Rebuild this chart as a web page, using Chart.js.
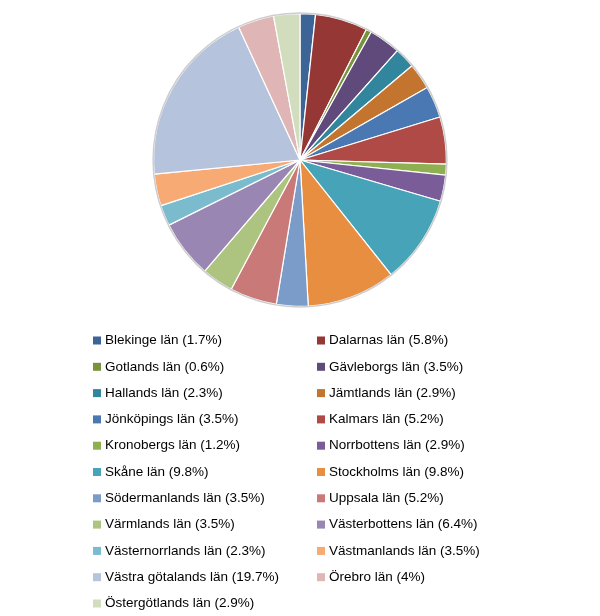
<!DOCTYPE html>
<html>
<head>
<meta charset="utf-8">
<script src="https://cdn.jsdelivr.net/npm/chart.js@4"></script>
<style>
html,body{margin:0;padding:0;background:#fff;}
#wrap{width:600px;height:616px;position:relative;}
</style>
</head>
<body>
<div id="wrap"><canvas id="c" width="600" height="616"></canvas></div>
<script>
const categories = ["Blekinge län","Dalarnas län","Gotlands län","Gävleborgs län","Hallands län","Jämtlands län","Jönköpings län","Kalmars län","Kronobergs län","Norrbottens län","Skåne län","Stockholms län","Södermanlands län","Uppsala län","Värmlands län","Västerbottens län","Västernorrlands län","Västmanlands län","Västra götalands län","Örebro län","Östergötlands län"];
const percents = [1.7,5.8,0.6,3.5,2.3,2.9,3.5,5.2,1.2,2.9,9.8,9.8,3.5,5.2,3.5,6.4,2.3,3.5,19.7,4,2.9];
const colors = ["#3C6496","#953735","#77933C","#604A7B","#31859C","#C3742F","#4A78B3","#B04A47","#8EB050","#7A5C99","#46A3B8","#E88E40","#7B9BC8","#C97A78","#ADC481","#9A86B2","#7ABBCE","#F8AA74","#B5C3DD","#DFB6B5","#D2DDBE"];

const legendLabels = categories.map((c,i)=>c+" ("+percents[i]+"%)");

const outerRing = {
  id:'outerRing',
  afterDatasetsDraw(chart){
    const arc = chart.getDatasetMeta(0).data[0];
    if(!arc) return;
    const ctx = chart.ctx;
    ctx.save();
    ctx.beginPath();
    ctx.arc(arc.x, arc.y, arc.outerRadius+0.5, 0, Math.PI*2);
    ctx.strokeStyle = 'rgba(200,200,200,0.9)';
    ctx.lineWidth = 1.5;
    ctx.stroke();
    ctx.restore();
  }
};

const gridLegend = {
  id:'gridLegend',
  afterDraw(chart){
    const ctx = chart.ctx;
    const labels = chart.data.labels;
    const bg = chart.data.datasets[0].backgroundColor;
    ctx.save();
    ctx.font = '13px "Lucida Grande", "DejaVu Sans", sans-serif';
    ctx.font = '13.5px "Liberation Sans", Arial, sans-serif';
    ctx.textBaseline = 'middle';
    ctx.fillStyle = '#000';
    const colX = [93, 317];
    const y0 = 340.5, dy = 26.3;
    labels.forEach((lab,i)=>{
      const col = i % 2, row = Math.floor(i/2);
      const x = colX[col], y = y0 + row*dy;
      ctx.fillStyle = bg[i];
      ctx.fillRect(x, y-4, 8, 8);
      ctx.fillStyle = '#000';
      ctx.fillText(lab, x+12, y);
    });
    ctx.restore();
  }
};

new Chart(document.getElementById('c'), {
  type:'pie',
  data:{
    labels: legendLabels,
    datasets:[{
      data: percents,
      backgroundColor: colors,
      borderColor: '#ffffff',
      borderWidth: 1.2
    }]
  },
  options:{
    responsive:false,
    animation:false,
    layout:{padding:{top:13, bottom:309, left:0, right:0}},
    plugins:{legend:{display:false}, tooltip:{enabled:false}}
  },
  plugins:[outerRing, gridLegend]
});
</script>
</body>
</html>
